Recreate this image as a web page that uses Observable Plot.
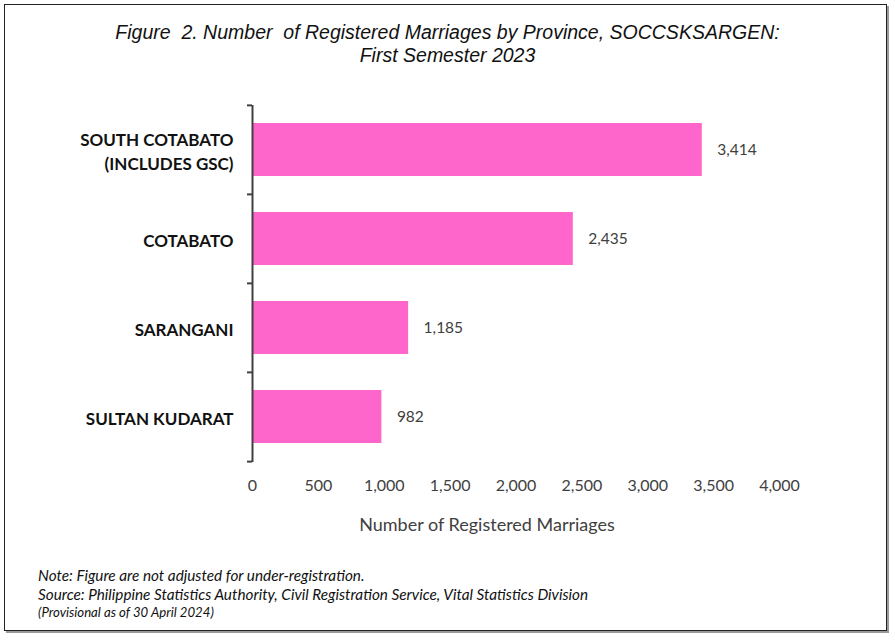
<!DOCTYPE html>
<html>
<head>
<meta charset="utf-8">
<script src="https://cdn.jsdelivr.net/npm/d3@7"></script>
<script src="https://cdn.jsdelivr.net/npm/@observablehq/plot@0.6"></script>
<style>
  html, body { margin: 0; padding: 0; background: #fff; }
  #wrap { position: relative; width: 895px; height: 640px; overflow: hidden; }
  #frame { position: absolute; left: 4px; top: 4px; width: 881px; height: 625px;
           border: 1.5px solid #222; box-shadow: 2px 2px 0 #999; }
  #title { position: absolute; left: 0; top: 21px; width: 895px; text-align: center;
           font-family: "Liberation Sans", Arial, sans-serif; font-style: italic;
           font-size: 19.5px; line-height: 23px; color: #111; white-space: pre; }
  #chart { position: absolute; left: 0; top: 0; }
  #xtitle { position: absolute; left: 287px; width: 400px; top: 513px; text-align: center;
            font-family: Lato, "Open Sans", sans-serif; font-size: 18px; color: #404040; }
  #notes { position: absolute; left: 38px; top: 566px; font-family: Lato, "Open Sans", sans-serif;
           font-style: italic; color: #111; }
  #notes .n { font-size: 15.3px; line-height: 19px; }
  #notes .p { font-size: 13.2px; line-height: 17px; }
</style>
</head>
<body>
<div id="wrap">
  <div id="frame"></div>
  <div id="title">Figure  2. Number  of Registered Marriages by Province, SOCCSKSARGEN:
First Semester 2023</div>
  <div id="chart"></div>
  <div id="xtitle">Number of Registered Marriages</div>
  <div id="notes">
    <div class="n">Note: Figure are not adjusted for under-registration.</div>
    <div class="n">Source: Philippine Statistics Authority, Civil Registration Service, Vital Statistics Division</div>
    <div class="p">(Provisional as of 30 April 2024)</div>
  </div>
</div>
<script>
const provinces = ["SOUTH COTABATO\n(INCLUDES GSC)", "COTABATO", "SARANGANI", "SULTAN KUDARAT"];
const marriages = [3414, 2435, 1185, 982];
const xTicks = [0, 500, 1000, 1500, 2000, 2500, 3000, 3500, 4000];

const data = provinces.map((p, i) => ({province: p, value: marriages[i]}));

const marginTop = 105, plotH = 357, marginBottom = 78;
const step = plotH / provinces.length;
const fmt = d3.format(",");
const font = "Lato, 'Open Sans', sans-serif";

const chart = Plot.plot({
  width: 895,
  height: marginTop + plotH + marginBottom,
  marginTop, marginBottom,
  marginLeft: 252, marginRight: 116,
  style: {background: "transparent", overflow: "visible"},
  x: {domain: [0, 4000]},
  y: {domain: provinces, paddingInner: 0.4, paddingOuter: 0.2, align: 0.5},
  marks: [
    Plot.barX(data, {x: "value", y: "province", fill: "#FF66CC"}),
    Plot.text(data, {x: "value", y: "province", text: d => fmt(d.value), dx: 15, textAnchor: "start",
      fill: "#404040", fontSize: 15.5, fontFamily: font}),
    Plot.ruleX([0], {stroke: "#404040", strokeWidth: 2}),
    Plot.axisY({text: null, label: null, tickSize: 5, dy: -step / 2, stroke: "#404040", strokeWidth: 2}),
    Plot.axisY({ticks: [provinces[provinces.length - 1]], text: null, label: null, tickSize: 5, dy: step / 2, stroke: "#404040", strokeWidth: 2}),
    Plot.axisY({tickSize: 0, tickPadding: 19, label: null, fontWeight: "bold", fontSize: 17,
      fontFamily: font, fill: "#111", lineHeight: 1.4}),
    Plot.axisX({ticks: xTicks, tickFormat: fmt, tickSize: 0, tickPadding: 17, label: null,
      fontSize: 16, fontFamily: font, fill: "#404040"})
  ]
});
document.getElementById("chart").appendChild(chart);
</script>
</body>
</html>
